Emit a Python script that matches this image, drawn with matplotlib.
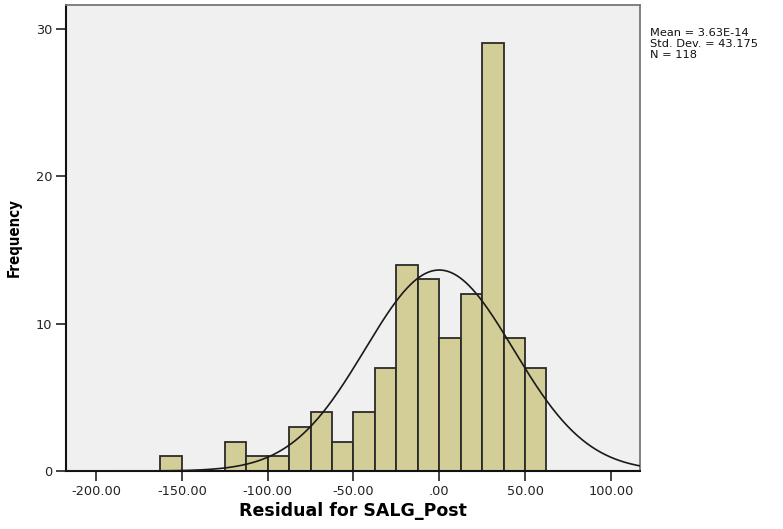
import numpy as np
import matplotlib
matplotlib.use("Agg")
import matplotlib.pyplot as plt

# Histogram of regression residuals (bin width 12.5)
bin_edges_start = -162.5
bin_width = 12.5
counts = [1, 0, 0, 2, 1, 1, 3, 4, 2, 4, 7, 14, 13, 9, 12, 29, 9, 7]

mean_val = 3.63e-14
std_val = 43.175
n_obs = 118

x_ticks = [-200, -150, -100, -50, 0, 50, 100]
x_tick_labels = ["-200.00", "-150.00", "-100.00", "-50.00", ".00", "50.00", "100.00"]
y_ticks = [0, 10, 20, 30]

edges = bin_edges_start + bin_width * np.arange(len(counts) + 1)

fig = plt.figure(figsize=(7.83, 5.29), dpi=100)
ax = fig.add_axes([66 / 783, 58 / 529, (640 - 66) / 783, (471 - 5) / 529])
ax.set_facecolor("#F0F0F0")

ax.bar(edges[:-1], counts, width=bin_width, align="edge",
       color="#D3CE97", edgecolor="#2a2a2a", linewidth=1.3, zorder=2)

xlim = (-217.5, 117.0)
xs = np.linspace(xlim[0], xlim[1], 600)
pdf = n_obs * bin_width / (std_val * np.sqrt(2 * np.pi)) * np.exp(-0.5 * ((xs - mean_val) / std_val) ** 2)
ax.plot(xs, pdf, color="#1a1a1a", linewidth=1.2, zorder=3)

ax.set_xlim(*xlim)
ax.set_ylim(0, 31.6)
ax.set_xticks(x_ticks)
ax.set_xticklabels(x_tick_labels)
ax.set_yticks(y_ticks)
ax.set_yticklabels([str(v) for v in y_ticks])

ax.tick_params(axis="both", direction="out", length=7, width=1.2, labelsize=9.3,
               colors="#222222", pad=3)

for side in ("left", "bottom"):
    ax.spines[side].set_color("#111111")
    ax.spines[side].set_linewidth(1.5)
for side in ("top", "right"):
    ax.spines[side].set_color("#777777")
    ax.spines[side].set_linewidth(1.3)

ax.set_xlabel("Residual for SALG_Post", fontsize=12.5, fontweight="bold", labelpad=3)
ax.set_ylabel("Frequency", fontsize=10.8, fontweight="bold", fontstretch="condensed",
              labelpad=10)

fig.text(650 / 783, 1 - 44 / 529,
         "Mean = 3.63E-14\nStd. Dev. = 43.175\nN = 118",
         fontsize=8.2, va="center", ha="left", linespacing=1.08, color="#111111")

fig.savefig("out.png", dpi=100)
